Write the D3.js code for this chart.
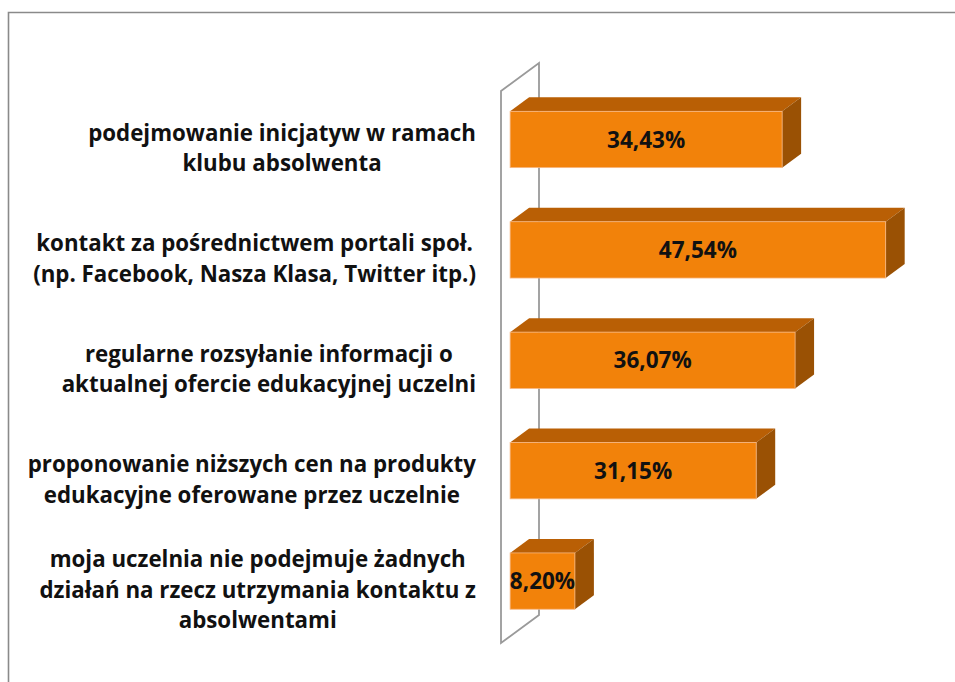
<!DOCTYPE html>
<html lang="pl">
<head>
<meta charset="UTF-8" />
<title>Utrzymywanie kontaktu z absolwentami</title>
<script src="https://d3js.org/d3.v7.min.js"></script>
<style>
  html, body { margin: 0; padding: 0; background: #fff; }
  svg { display: block; }
  .cat { font-family: 'Open Sans', Lato, sans-serif; font-weight: 700; font-size: 22.3px; fill: #111; }
  .val { font-family: 'Open Sans', Lato, sans-serif; font-weight: 700; font-size: 22.5px; fill: #111; }
</style>
</head>
<body>
<div id="chart"></div>
<script>
  // category labels, already split into lines as in the original
  const categories = [
    ["podejmowanie inicjatyw w ramach", "klubu absolwenta"],
    ["kontakt za pośrednictwem portali społ.", "(np. Facebook, Nasza Klasa, Twitter itp.)"],
    ["regularne rozsyłanie informacji o", "aktualnej ofercie edukacyjnej uczelni"],
    ["proponowanie niższych cen na produkty", "edukacyjne oferowane przez uczelnie"],
    ["moja uczelnia nie podejmuje żadnych", "działań na rzecz utrzymania kontaktu z", "absolwentami"]
  ];
  const values = [34.43, 47.54, 36.07, 31.15, 8.20];
  const valueLabels = ["34,43%", "47,54%", "36,07%", "31,15%", "8,20%"];

  const W = 955, H = 682;
  // depth vector of the 3d box (whole floor depth)
  const depth = { x: 38, y: -28 };
  const front = 0.24, back = 0.74;

  const svg = d3.select("#chart").append("svg")
    .attr("width", W).attr("height", H);

  // outer frame (right and bottom edges fall outside the crop)
  svg.append("path")
    .attr("d", "M8.5,690 L8.5,12.5 L960,12.5")
    .attr("fill", "none")
    .attr("stroke", "#8a8a8a")
    .attr("stroke-width", 1.6);

  const keys = categories.map((d, i) => i);
  const y = d3.scaleBand().domain(keys).range([91, 643])
    .paddingInner(0.49).paddingOuter(0.245);
  const x = d3.scaleLinear().domain([0, 50]).range([501, 896]);

  // side wall at value 0
  const y0 = y.range()[0], y1 = y.range()[1];
  svg.append("path")
    .attr("d", `M${x(0)},${y0} L${x(0) + depth.x},${y0 + depth.y} L${x(0) + depth.x},${y1 + depth.y} L${x(0)},${y1} Z`)
    .attr("fill", "none")
    .attr("stroke", "#9a9a9a")
    .attr("stroke-width", 1.8);

  const fx = depth.x * front, fy = depth.y * front;
  const dx = depth.x * (back - front), dy = depth.y * (back - front);

  const bars = svg.append("g").selectAll("g")
    .data(values)
    .join("g");

  bars.each(function (v, i) {
    const g = d3.select(this);
    const xl = x(0) + fx, xr = x(v) + fx;
    const yt = y(i) + fy, yb = y(i) + y.bandwidth() + fy;
    // top face
    g.append("path")
      .attr("d", `M${xl},${yt} L${xl + dx},${yt + dy} L${xr + dx},${yt + dy} L${xr},${yt} Z`)
      .attr("fill", "#b95f05");
    // side face
    g.append("path")
      .attr("d", `M${xr},${yt} L${xr + dx},${yt + dy} L${xr + dx},${yb + dy} L${xr},${yb} Z`)
      .attr("fill", "#9a5104");
    // front face
    g.append("rect")
      .attr("x", xl).attr("y", yt)
      .attr("width", xr - xl).attr("height", yb - yt)
      .attr("fill", "#f2820a")
      .attr("stroke", "#f7b783")
      .attr("stroke-width", 0.8);
    g.append("text")
      .attr("class", "val")
      .attr("x", (xl + xr) / 2)
      .attr("y", (yt + yb) / 2)
      .attr("dy", "0.36em")
      .attr("text-anchor", "middle")
      .text(valueLabels[i]);
  });

  // category labels: centred lines, block right-aligned to the axis
  const labelRight = 476, lineH = 30.5;
  const labels = svg.append("g").selectAll("text")
    .data(categories)
    .join("text")
    .attr("class", "cat")
    .attr("text-anchor", "middle");

  labels.each(function (lines, i) {
    const t = d3.select(this);
    const cy = y(i) + y.bandwidth() / 2 + 2;
    const top = cy - (lines.length - 1) * lineH / 2;
    lines.forEach((s, k) => {
      t.append("tspan").attr("y", top + k * lineH).attr("dy", "0.36em").text(s);
    });
    const widths = [];
    t.selectAll("tspan").each(function () { widths.push(this.getComputedTextLength()); });
    const cx = labelRight - d3.max(widths) / 2;
    t.selectAll("tspan").attr("x", cx);
  });
</script>
</body>
</html>
